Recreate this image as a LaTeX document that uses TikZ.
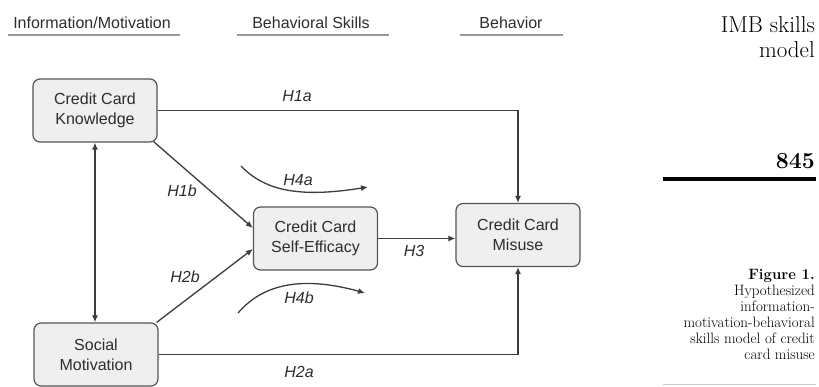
\documentclass[tikz,border=0pt]{standalone}
\usepackage{fontspec}
\setsansfont{Liberation Sans}
\usepackage{tikz}
\usetikzlibrary{arrows.meta}

\definecolor{boxfill}{RGB}{239,239,239}
\definecolor{boxline}{RGB}{85,85,85}
\definecolor{linegray}{RGB}{60,60,60}
\definecolor{textgray}{RGB}{45,45,45}

\begin{document}
\begin{tikzpicture}[x=1pt,y=-1pt,
	construct/.style={draw=boxline,fill=boxfill,rounded corners=7pt,line width=1.2pt,align=center,font=\sffamily\fontsize{16}{20}\selectfont,text=textgray,minimum width=124pt,minimum height=63pt,inner sep=0pt},
	hyp/.style={font=\sffamily\itshape\fontsize{16}{19}\selectfont,text=textgray,inner sep=0pt},
	link/.style={draw=linegray,line width=1.3pt,-{Latex[length=7pt,width=6pt]}},
	header/.style={font=\sffamily\fontsize{16}{19}\selectfont,text=textgray,inner sep=0pt},
	headrule/.style={draw=gray!80,line width=2pt},
	margin/.style={font=\fontsize{23}{25}\selectfont,inner sep=0pt,align=right}]
	\useasboundingbox (0,0) rectangle (819,386);
	
	% Headers
	\node[header] (infohead) at (92,23) {Information/Motivation};
	\draw[headrule] (8,35) -- (180,35);
	\node[header] (skillhead) at (311,23) {Behavioral Skills};
	\draw[headrule] (237,35) -- (389,35);
	\node[header] (behavhead) at (511,23) {Behavior};
	\draw[headrule] (460,35) -- (563,35);
	
	% Constructs
	\node[construct] (know) at (95,110.5) {Credit Card\\Knowledge};
	\node[construct] (social) at (96,354.5) {Social\\Motivation};
	\node[construct] (selfeff) at (315.5,238.5) {Credit Card\\Self-Efficacy};
	\node[construct] (misuse) at (518,235) {Credit Card\\Misuse};
	
	% Paths
	\draw[link] (know.east) -| (misuse.north);
	\draw[link] (social.east) -| (misuse.south);
	\draw[link] ([xshift=-4pt,yshift=1pt]know.south east) -- ([yshift=10.5pt]selfeff.west);
	\draw[link] ([xshift=-2pt]social.north east) -- ([yshift=-10.5pt]selfeff.west);
	\draw[link] (selfeff.east) -- (selfeff.east -| misuse.west);
	\draw[link,{Latex[length=7pt,width=6pt]}-{Latex[length=7pt,width=6pt]}] (know.south) -- (know.south |- social.north);
	
	% Mediation curves
	\coordinate (h4as) at (241,166);
	\coordinate (h4ae) at (368,187);
	\coordinate (h4bs) at (238,313);
	\coordinate (h4be) at (365,293);
	\draw[link] (h4as) .. controls (265,191) and (300,198) .. (h4ae);
	\draw[link] (h4bs) .. controls (262,285) and (300,275) .. (h4be);
	
	% Hypothesis labels
	\node[hyp] (h1a) at (297,96) {H1a};
	\node[hyp] (h1b) at (182,191) {H1b};
	\node[hyp] (h2b) at (185,277) {H2b};
	\node[hyp] (h3) at (414,251) {H3};
	\node[hyp] (h4a) at (298,180) {H4a};
	\node[hyp] (h4b) at (299,298) {H4b};
	\node[hyp] (h2a) at (299,372) {H2a};
	
	% Margin (base = last line)
	\node[margin,anchor=base east] (title) at (815,57) {IMB skills\\model};
	\node[margin,anchor=base east,font=\bfseries\fontsize{23}{25}\selectfont] (page) at (815,168) {845};
	\draw[line width=4pt] (663,179) -- (816,179);
	\node[margin,anchor=base east,font=\fontsize{15}{16}\selectfont] (caption) at (815,359) {\textbf{Figure 1.}\\Hypothesized\\information-\\motivation-behavioral\\skills model of credit\\card misuse};
	\draw[gray!40,line width=1pt] (663,384) -- (816,384);
\end{tikzpicture}
\end{document}
